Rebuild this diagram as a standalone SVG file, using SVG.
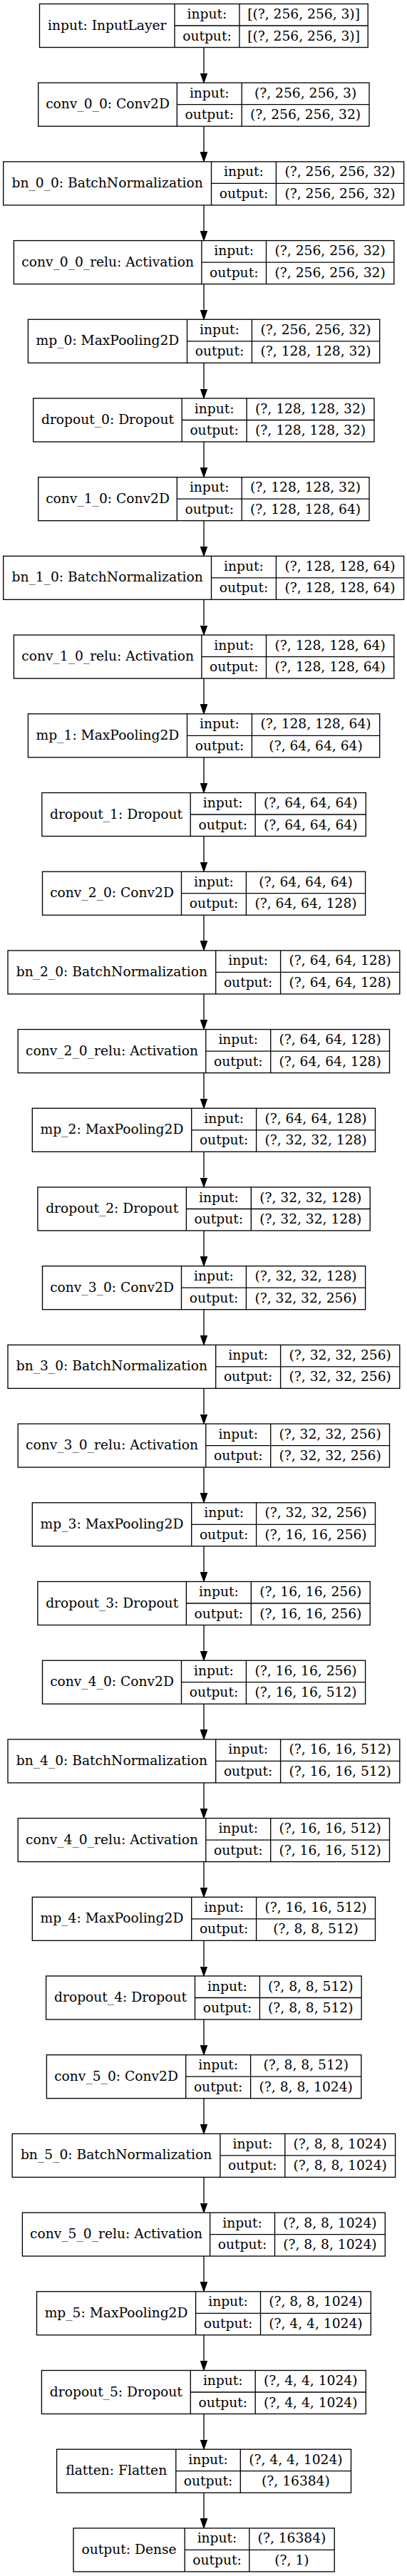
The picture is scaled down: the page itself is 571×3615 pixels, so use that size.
<svg xmlns="http://www.w3.org/2000/svg" width="571" height="3615" viewBox="0 0 571 3615">
<style>
.b{fill:#fff;stroke:#000;stroke-width:1.33}
.l{fill:none;stroke:#000;stroke-width:1.33}
text{font-family:"DejaVu Serif","Liberation Serif",serif;font-size:18.67px;text-anchor:middle;fill:#000}
.e{stroke:#000;stroke-width:1.33;fill:none;marker-end:url(#ah)}
</style>
<defs>
<marker id="ah" markerUnits="userSpaceOnUse" viewBox="0 0 13.5 9.6" refX="0" refY="4.8" markerWidth="13.5" markerHeight="9.6" orient="auto">
<path d="M0,0L13.5,4.8L0,9.6z" fill="#000" stroke="#000" stroke-width="1"/>
</marker>
</defs>
<rect width="571" height="3615" fill="#fff"/>
<g id="connectors">
<line class="e" x1="286" y1="66.5" x2="286" y2="102.7"/>
<line class="e" x1="286" y1="177.2" x2="286" y2="213.4"/>
<line class="e" x1="286" y1="287.9" x2="286" y2="324.1"/>
<line class="e" x1="286" y1="398.6" x2="286" y2="434.8"/>
<line class="e" x1="286" y1="509.3" x2="286" y2="545.5"/>
<line class="e" x1="286" y1="620" x2="286" y2="656.2"/>
<line class="e" x1="286" y1="730.7" x2="286" y2="766.9"/>
<line class="e" x1="286" y1="841.4" x2="286" y2="877.6"/>
<line class="e" x1="286" y1="952.1" x2="286" y2="988.3"/>
<line class="e" x1="286" y1="1062.8" x2="286" y2="1099"/>
<line class="e" x1="286" y1="1173.5" x2="286" y2="1209.7"/>
<line class="e" x1="286" y1="1284.2" x2="286" y2="1320.4"/>
<line class="e" x1="286" y1="1394.9" x2="286" y2="1431.1"/>
<line class="e" x1="286" y1="1505.6" x2="286" y2="1541.8"/>
<line class="e" x1="286" y1="1616.3" x2="286" y2="1652.5"/>
<line class="e" x1="286" y1="1727" x2="286" y2="1763.2"/>
<line class="e" x1="286" y1="1837.7" x2="286" y2="1873.9"/>
<line class="e" x1="286" y1="1948.4" x2="286" y2="1984.6"/>
<line class="e" x1="286" y1="2059.1" x2="286" y2="2095.3"/>
<line class="e" x1="286" y1="2169.8" x2="286" y2="2206"/>
<line class="e" x1="286" y1="2280.5" x2="286" y2="2316.7"/>
<line class="e" x1="286" y1="2391.2" x2="286" y2="2427.4"/>
<line class="e" x1="286" y1="2501.9" x2="286" y2="2538.1"/>
<line class="e" x1="286" y1="2612.6" x2="286" y2="2648.8"/>
<line class="e" x1="286" y1="2723.3" x2="286" y2="2759.5"/>
<line class="e" x1="286" y1="2834" x2="286" y2="2870.2"/>
<line class="e" x1="286" y1="2944.7" x2="286" y2="2980.9"/>
<line class="e" x1="286" y1="3055.4" x2="286" y2="3091.6"/>
<line class="e" x1="286" y1="3166.1" x2="286" y2="3202.3"/>
<line class="e" x1="286" y1="3276.8" x2="286" y2="3313"/>
<line class="e" x1="286" y1="3387.5" x2="286" y2="3423.7"/>
<line class="e" x1="286" y1="3498.2" x2="286" y2="3534.4"/>
</g>
<g id="n0" transform="translate(0,5.5)"><rect class="b" x="55.5" y="0" width="460.7" height="61"/><path class="l" d="M245,0V61M335.9,0V61M245,30.5H516.2"/><text x="150.25" y="36">input: InputLayer</text><text x="290.45" y="20.5">input:</text><text x="290.45" y="51">output:</text><text x="426.05" y="20.5">[(?, 256, 256, 3)]</text><text x="426.05" y="51">[(?, 256, 256, 3)]</text></g>
<g id="n1" transform="translate(0,116.2)"><rect class="b" x="53.7" y="0" width="464.3" height="61"/><path class="l" d="M248.3,0V61M339.2,0V61M248.3,30.5H518"/><text x="151" y="36">conv_0_0: Conv2D</text><text x="293.75" y="20.5">input:</text><text x="293.75" y="51">output:</text><text x="428.6" y="20.5">(?, 256, 256, 3)</text><text x="428.6" y="51">(?, 256, 256, 32)</text></g>
<g id="n2" transform="translate(0,226.9)"><rect class="b" x="4.7" y="0" width="561.9" height="61"/><path class="l" d="M296.5,0V61M387.4,0V61M296.5,30.5H566.6"/><text x="150.6" y="36">bn_0_0: BatchNormalization</text><text x="341.95" y="20.5">input:</text><text x="341.95" y="51">output:</text><text x="477" y="20.5">(?, 256, 256, 32)</text><text x="477" y="51">(?, 256, 256, 32)</text></g>
<g id="n3" transform="translate(0,337.6)"><rect class="b" x="19.4" y="0" width="533.4" height="61"/><path class="l" d="M282.9,0V61M373.5,0V61M282.9,30.5H552.8"/><text x="151.15" y="36">conv_0_0_relu: Activation</text><text x="328.2" y="20.5">input:</text><text x="328.2" y="51">output:</text><text x="463.15" y="20.5">(?, 256, 256, 32)</text><text x="463.15" y="51">(?, 256, 256, 32)</text></g>
<g id="n4" transform="translate(0,448.3)"><rect class="b" x="39.4" y="0" width="493.3" height="61"/><path class="l" d="M262.5,0V61M353.4,0V61M262.5,30.5H532.7"/><text x="150.95" y="36">mp_0: MaxPooling2D</text><text x="307.95" y="20.5">input:</text><text x="307.95" y="51">output:</text><text x="443.05" y="20.5">(?, 256, 256, 32)</text><text x="443.05" y="51">(?, 128, 128, 32)</text></g>
<g id="n5" transform="translate(0,559)"><rect class="b" x="46.7" y="0" width="478.3" height="61"/><path class="l" d="M255.2,0V61M346.1,0V61M255.2,30.5H525"/><text x="150.95" y="36">dropout_0: Dropout</text><text x="300.65" y="20.5">input:</text><text x="300.65" y="51">output:</text><text x="435.55" y="20.5">(?, 128, 128, 32)</text><text x="435.55" y="51">(?, 128, 128, 32)</text></g>
<g id="n6" transform="translate(0,669.7)"><rect class="b" x="53.7" y="0" width="464.3" height="61"/><path class="l" d="M248.3,0V61M339.2,0V61M248.3,30.5H518"/><text x="151" y="36">conv_1_0: Conv2D</text><text x="293.75" y="20.5">input:</text><text x="293.75" y="51">output:</text><text x="428.6" y="20.5">(?, 128, 128, 32)</text><text x="428.6" y="51">(?, 128, 128, 64)</text></g>
<g id="n7" transform="translate(0,780.4)"><rect class="b" x="4.7" y="0" width="561.9" height="61"/><path class="l" d="M296.5,0V61M387.4,0V61M296.5,30.5H566.6"/><text x="150.6" y="36">bn_1_0: BatchNormalization</text><text x="341.95" y="20.5">input:</text><text x="341.95" y="51">output:</text><text x="477" y="20.5">(?, 128, 128, 64)</text><text x="477" y="51">(?, 128, 128, 64)</text></g>
<g id="n8" transform="translate(0,891.1)"><rect class="b" x="19.4" y="0" width="533.4" height="61"/><path class="l" d="M282.9,0V61M373.5,0V61M282.9,30.5H552.8"/><text x="151.15" y="36">conv_1_0_relu: Activation</text><text x="328.2" y="20.5">input:</text><text x="328.2" y="51">output:</text><text x="463.15" y="20.5">(?, 128, 128, 64)</text><text x="463.15" y="51">(?, 128, 128, 64)</text></g>
<g id="n9" transform="translate(0,1001.8)"><rect class="b" x="39.4" y="0" width="493.3" height="61"/><path class="l" d="M262.5,0V61M353.4,0V61M262.5,30.5H532.7"/><text x="150.95" y="36">mp_1: MaxPooling2D</text><text x="307.95" y="20.5">input:</text><text x="307.95" y="51">output:</text><text x="443.05" y="20.5">(?, 128, 128, 64)</text><text x="443.05" y="51">(?, 64, 64, 64)</text></g>
<g id="n10" transform="translate(0,1112.5)"><rect class="b" x="58.8" y="0" width="454.5" height="61"/><path class="l" d="M267.2,0V61M358.2,0V61M267.2,30.5H513.3"/><text x="163" y="36">dropout_1: Dropout</text><text x="312.7" y="20.5">input:</text><text x="312.7" y="51">output:</text><text x="435.75" y="20.5">(?, 64, 64, 64)</text><text x="435.75" y="51">(?, 64, 64, 64)</text></g>
<g id="n11" transform="translate(0,1223.2)"><rect class="b" x="59.5" y="0" width="453.1" height="61"/><path class="l" d="M254.5,0V61M345.4,0V61M254.5,30.5H512.6"/><text x="157" y="36">conv_2_0: Conv2D</text><text x="299.95" y="20.5">input:</text><text x="299.95" y="51">output:</text><text x="429" y="20.5">(?, 64, 64, 64)</text><text x="429" y="51">(?, 64, 64, 128)</text></g>
<g id="n12" transform="translate(0,1333.9)"><rect class="b" x="11" y="0" width="549.8" height="61"/><path class="l" d="M302.7,0V61M393.6,0V61M302.7,30.5H560.8"/><text x="156.85" y="36">bn_2_0: BatchNormalization</text><text x="348.15" y="20.5">input:</text><text x="348.15" y="51">output:</text><text x="477.2" y="20.5">(?, 64, 64, 128)</text><text x="477.2" y="51">(?, 64, 64, 128)</text></g>
<g id="n13" transform="translate(0,1444.6)"><rect class="b" x="25.2" y="0" width="521.3" height="61"/><path class="l" d="M288.8,0V61M379.7,0V61M288.8,30.5H546.5"/><text x="157" y="36">conv_2_0_relu: Activation</text><text x="334.25" y="20.5">input:</text><text x="334.25" y="51">output:</text><text x="463.1" y="20.5">(?, 64, 64, 128)</text><text x="463.1" y="51">(?, 64, 64, 128)</text></g>
<g id="n14" transform="translate(0,1555.3)"><rect class="b" x="45.3" y="0" width="481.2" height="61"/><path class="l" d="M268.7,0V61M359.6,0V61M268.7,30.5H526.5"/><text x="157" y="36">mp_2: MaxPooling2D</text><text x="314.15" y="20.5">input:</text><text x="314.15" y="51">output:</text><text x="443.05" y="20.5">(?, 64, 64, 128)</text><text x="443.05" y="51">(?, 32, 32, 128)</text></g>
<g id="n15" transform="translate(0,1666)"><rect class="b" x="52.9" y="0" width="466.3" height="61"/><path class="l" d="M261.4,0V61M352.3,0V61M261.4,30.5H519.2"/><text x="157.15" y="36">dropout_2: Dropout</text><text x="306.85" y="20.5">input:</text><text x="306.85" y="51">output:</text><text x="435.75" y="20.5">(?, 32, 32, 128)</text><text x="435.75" y="51">(?, 32, 32, 128)</text></g>
<g id="n16" transform="translate(0,1776.7)"><rect class="b" x="59.5" y="0" width="453.1" height="61"/><path class="l" d="M254.5,0V61M345.4,0V61M254.5,30.5H512.6"/><text x="157" y="36">conv_3_0: Conv2D</text><text x="299.95" y="20.5">input:</text><text x="299.95" y="51">output:</text><text x="429" y="20.5">(?, 32, 32, 128)</text><text x="429" y="51">(?, 32, 32, 256)</text></g>
<g id="n17" transform="translate(0,1887.4)"><rect class="b" x="11" y="0" width="549.8" height="61"/><path class="l" d="M302.7,0V61M393.6,0V61M302.7,30.5H560.8"/><text x="156.85" y="36">bn_3_0: BatchNormalization</text><text x="348.15" y="20.5">input:</text><text x="348.15" y="51">output:</text><text x="477.2" y="20.5">(?, 32, 32, 256)</text><text x="477.2" y="51">(?, 32, 32, 256)</text></g>
<g id="n18" transform="translate(0,1998.1)"><rect class="b" x="25.2" y="0" width="521.3" height="61"/><path class="l" d="M288.8,0V61M379.7,0V61M288.8,30.5H546.5"/><text x="157" y="36">conv_3_0_relu: Activation</text><text x="334.25" y="20.5">input:</text><text x="334.25" y="51">output:</text><text x="463.1" y="20.5">(?, 32, 32, 256)</text><text x="463.1" y="51">(?, 32, 32, 256)</text></g>
<g id="n19" transform="translate(0,2108.8)"><rect class="b" x="45.3" y="0" width="481.2" height="61"/><path class="l" d="M268.7,0V61M359.6,0V61M268.7,30.5H526.5"/><text x="157" y="36">mp_3: MaxPooling2D</text><text x="314.15" y="20.5">input:</text><text x="314.15" y="51">output:</text><text x="443.05" y="20.5">(?, 32, 32, 256)</text><text x="443.05" y="51">(?, 16, 16, 256)</text></g>
<g id="n20" transform="translate(0,2219.5)"><rect class="b" x="52.9" y="0" width="466.3" height="61"/><path class="l" d="M261.4,0V61M352.3,0V61M261.4,30.5H519.2"/><text x="157.15" y="36">dropout_3: Dropout</text><text x="306.85" y="20.5">input:</text><text x="306.85" y="51">output:</text><text x="435.75" y="20.5">(?, 16, 16, 256)</text><text x="435.75" y="51">(?, 16, 16, 256)</text></g>
<g id="n21" transform="translate(0,2330.2)"><rect class="b" x="59.5" y="0" width="453.1" height="61"/><path class="l" d="M254.5,0V61M345.4,0V61M254.5,30.5H512.6"/><text x="157" y="36">conv_4_0: Conv2D</text><text x="299.95" y="20.5">input:</text><text x="299.95" y="51">output:</text><text x="429" y="20.5">(?, 16, 16, 256)</text><text x="429" y="51">(?, 16, 16, 512)</text></g>
<g id="n22" transform="translate(0,2440.9)"><rect class="b" x="11" y="0" width="549.8" height="61"/><path class="l" d="M302.7,0V61M393.6,0V61M302.7,30.5H560.8"/><text x="156.85" y="36">bn_4_0: BatchNormalization</text><text x="348.15" y="20.5">input:</text><text x="348.15" y="51">output:</text><text x="477.2" y="20.5">(?, 16, 16, 512)</text><text x="477.2" y="51">(?, 16, 16, 512)</text></g>
<g id="n23" transform="translate(0,2551.6)"><rect class="b" x="25.2" y="0" width="521.3" height="61"/><path class="l" d="M288.8,0V61M379.7,0V61M288.8,30.5H546.5"/><text x="157" y="36">conv_4_0_relu: Activation</text><text x="334.25" y="20.5">input:</text><text x="334.25" y="51">output:</text><text x="463.1" y="20.5">(?, 16, 16, 512)</text><text x="463.1" y="51">(?, 16, 16, 512)</text></g>
<g id="n24" transform="translate(0,2662.3)"><rect class="b" x="45.3" y="0" width="481.2" height="61"/><path class="l" d="M268.7,0V61M359.6,0V61M268.7,30.5H526.5"/><text x="157" y="36">mp_4: MaxPooling2D</text><text x="314.15" y="20.5">input:</text><text x="314.15" y="51">output:</text><text x="443.05" y="20.5">(?, 16, 16, 512)</text><text x="443.05" y="51">(?, 8, 8, 512)</text></g>
<g id="n25" transform="translate(0,2773)"><rect class="b" x="64.6" y="0" width="442.5" height="61"/><path class="l" d="M273.5,0V61M364.4,0V61M273.5,30.5H507.1"/><text x="169.05" y="36">dropout_4: Dropout</text><text x="318.95" y="20.5">input:</text><text x="318.95" y="51">output:</text><text x="435.75" y="20.5">(?, 8, 8, 512)</text><text x="435.75" y="51">(?, 8, 8, 512)</text></g>
<g id="n26" transform="translate(0,2883.7)"><rect class="b" x="65.4" y="0" width="441.4" height="61"/><path class="l" d="M260.7,0V61M351.6,0V61M260.7,30.5H506.8"/><text x="163.05" y="36">conv_5_0: Conv2D</text><text x="306.15" y="20.5">input:</text><text x="306.15" y="51">output:</text><text x="429.2" y="20.5">(?, 8, 8, 512)</text><text x="429.2" y="51">(?, 8, 8, 1024)</text></g>
<g id="n27" transform="translate(0,2994.4)"><rect class="b" x="17.2" y="0" width="537.4" height="61"/><path class="l" d="M308.9,0V61M399.8,0V61M308.9,30.5H554.6"/><text x="163.05" y="36">bn_5_0: BatchNormalization</text><text x="354.35" y="20.5">input:</text><text x="354.35" y="51">output:</text><text x="477.2" y="20.5">(?, 8, 8, 1024)</text><text x="477.2" y="51">(?, 8, 8, 1024)</text></g>
<g id="n28" transform="translate(0,3105.1)"><rect class="b" x="31.4" y="0" width="508.9" height="61"/><path class="l" d="M294.6,0V61M385.5,0V61M294.6,30.5H540.3"/><text x="163" y="36">conv_5_0_relu: Activation</text><text x="340.05" y="20.5">input:</text><text x="340.05" y="51">output:</text><text x="462.9" y="20.5">(?, 8, 8, 1024)</text><text x="462.9" y="51">(?, 8, 8, 1024)</text></g>
<g id="n29" transform="translate(0,3215.8)"><rect class="b" x="51.5" y="0" width="468.8" height="61"/><path class="l" d="M274.6,0V61M365.5,0V61M274.6,30.5H520.3"/><text x="163.05" y="36">mp_5: MaxPooling2D</text><text x="320.05" y="20.5">input:</text><text x="320.05" y="51">output:</text><text x="442.9" y="20.5">(?, 8, 8, 1024)</text><text x="442.9" y="51">(?, 4, 4, 1024)</text></g>
<g id="n30" transform="translate(0,3326.5)"><rect class="b" x="58.4" y="0" width="454.9" height="61"/><path class="l" d="M267.3,0V61M358.2,0V61M267.3,30.5H513.3"/><text x="162.85" y="36">dropout_5: Dropout</text><text x="312.75" y="20.5">input:</text><text x="312.75" y="51">output:</text><text x="435.75" y="20.5">(?, 4, 4, 1024)</text><text x="435.75" y="51">(?, 4, 4, 1024)</text></g>
<g id="n31" transform="translate(0,3437.2)"><rect class="b" x="79.6" y="0" width="412.9" height="61"/><path class="l" d="M246.8,0V61M337.3,0V61M246.8,30.5H492.5"/><text x="163.2" y="36">flatten: Flatten</text><text x="292.05" y="20.5">input:</text><text x="292.05" y="51">output:</text><text x="414.9" y="20.5">(?, 4, 4, 1024)</text><text x="414.9" y="51">(?, 16384)</text></g>
<g id="n32" transform="translate(0,3547.9)"><rect class="b" x="103" y="0" width="366.2" height="61"/><path class="l" d="M259.2,0V61M349.8,0V61M259.2,30.5H469.2"/><text x="181.1" y="36">output: Dense</text><text x="304.5" y="20.5">input:</text><text x="304.5" y="51">output:</text><text x="409.5" y="20.5">(?, 16384)</text><text x="409.5" y="51">(?, 1)</text></g>
</svg>
